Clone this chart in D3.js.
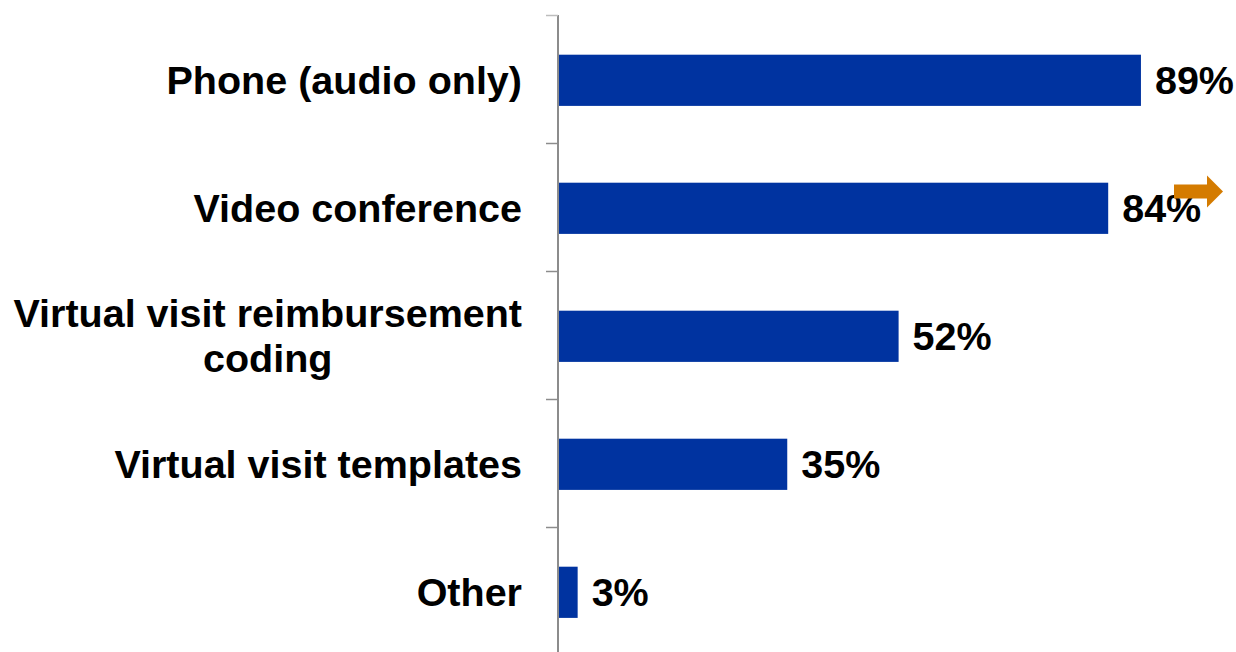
<!DOCTYPE html>
<html>
<head>
<meta charset="utf-8">
<script src="https://cdn.jsdelivr.net/npm/d3@7"></script>
<style>
  html, body { margin: 0; padding: 0; background: #fff; }
  svg { display: block; }
  text { font-family: "Liberation Sans", Arial, sans-serif; font-weight: bold; fill: #000; }
</style>
</head>
<body>
<svg id="chart" width="1236" height="652"></svg>
<script>
const categories = ["Phone (audio only)", "Video conference", "Virtual visit reimbursement\ncoding", "Virtual visit templates", "Other"];
const values = [89, 84, 52, 35, 3];
const valueLabels = ["89%", "84%", "52%", "35%", "3%"];
const arrowCategory = "Video conference";

const svg = d3.select("#chart");
const W = 1236, H = 652;
const x0 = 558;

const x = d3.scaleLinear().domain([0, 100]).range([x0, 1213]);
const y = d3.scaleBand().domain(categories).range([15.5, 655.5]).paddingInner(0.6).paddingOuter(0.3);

const fontSize = 39.5;

// Bars
svg.selectAll("rect.bar").data(categories).enter().append("rect")
  .attr("class", "bar")
  .attr("x", x(0) + 1)
  .attr("y", d => y(d) + 0.8)
  .attr("width", (d, i) => x(values[i]) - x(0) - 1)
  .attr("height", y.bandwidth())
  .attr("fill", "#0033A0");

// Axis line
svg.append("line")
  .attr("x1", x0).attr("x2", x0)
  .attr("y1", 15).attr("y2", H)
  .attr("stroke", "#8c8c8c").attr("stroke-width", 2);

// Ticks at band boundaries
const step = y.step();
categories.forEach((d, i) => {
  const b = y(d) + y.bandwidth() / 2 - step / 2;
  svg.append("line")
    .attr("x1", x0 - 12).attr("x2", x0)
    .attr("y1", b).attr("y2", b)
    .attr("stroke", i === 0 ? "#bdbdbd" : "#8c8c8c").attr("stroke-width", 1.5);
});

// Category labels
const labelRight = 522;
categories.forEach((d, i) => {
  const lines = d.split("\n");
  const cy = y(d) + y.bandwidth() / 2;
  const lh = 45;
  const g = svg.append("g");
  const t = g.append("text")
    .attr("font-size", fontSize)
    .attr("text-anchor", lines.length > 1 ? "middle" : "end");
  lines.forEach((ln, j) => {
    t.append("tspan")
      .attr("x", 0)
      .attr("y", cy + (j - (lines.length - 1) / 2) * lh)
      .attr("dy", "0.36em")
      .text(ln);
  });
  if (lines.length > 1) {
    const bb = t.node().getBBox();
    g.attr("transform", `translate(${labelRight - bb.width / 2},0)`);
  } else {
    g.attr("transform", `translate(${labelRight},0)`);
  }
});

// Value labels
svg.selectAll("text.val").data(categories).enter().append("text")
  .attr("class", "val")
  .attr("x", (d, i) => x(values[i]) + 14)
  .attr("y", d => y(d) + y.bandwidth() / 2)
  .attr("dy", "0.36em")
  .attr("font-size", fontSize)
  .text((d, i) => valueLabels[i]);

// Orange arrow annotation
const ay = y(arrowCategory) + y.bandwidth() / 2 - 16;
const ax = 1174;
svg.append("path")
  .attr("d", `M${ax},${ay - 7} L${ax + 33},${ay - 7} L${ax + 33},${ay - 16} L${ax + 49},${ay} L${ax + 33},${ay + 16} L${ax + 33},${ay + 7} L${ax},${ay + 7} Z`)
  .attr("fill", "#D47B00");
</script>
</body>
</html>
